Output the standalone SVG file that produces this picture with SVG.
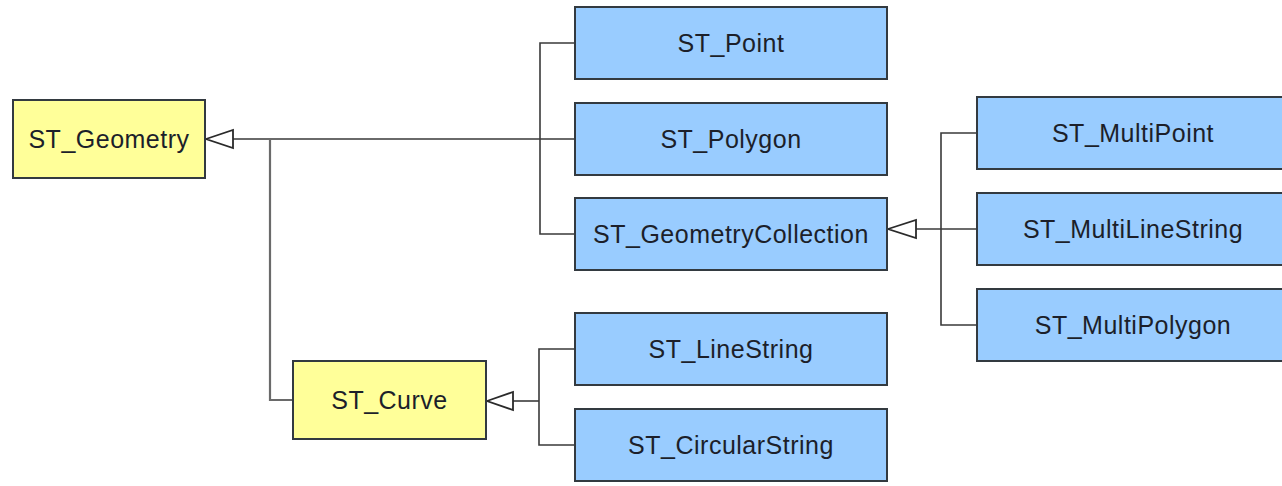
<svg xmlns="http://www.w3.org/2000/svg" width="1282" height="486" viewBox="0 0 1282 486">
  <style>
    .box { stroke: #333a40; stroke-width: 2; }
    .blue { fill: #99CCFF; }
    .yellow { fill: #FFFF99; }
    .lbl { font-family: "Liberation Sans", Arial, sans-serif; font-size: 25px; letter-spacing: 0.5px; fill: #1c1f2a; text-anchor: middle; dominant-baseline: central; }
    .conn { fill: none; stroke: #3a3a3a; stroke-width: 1.6; }
    .connG { fill: none; stroke: #6a6a6a; stroke-width: 2.2; }
    .tri { fill: #ffffff; stroke: #2a2a2a; stroke-width: 1.8; stroke-linejoin: miter; }
  </style>
  <rect width="1282" height="486" fill="#ffffff"/>
  <g id="connectors">
    <path class="connG" d="M233,139 H575"/>
    <path class="connG" d="M270,139 V400 H293"/>
    <path class="conn" d="M575,43 H540 V234 H575"/>
    <polygon class="tri" points="206,139 233,130 233,148"/>
    <path class="conn" d="M513,401 H539"/>
    <path class="conn" d="M575,349 H539 V445 H575"/>
    <polygon class="tri" points="487,401 513,392 513,410"/>
    <path class="conn" d="M916,229 H977"/>
    <path class="conn" d="M977,133 H941 V325 H977"/>
    <polygon class="tri" points="888,229 916,220 916,238"/>
  </g>
  <g id="ST_Geometry">
    <rect class="box yellow" x="13" y="100" width="192" height="78"/>
    <text class="lbl" x="109" y="139">ST_Geometry</text>
  </g>
  <g id="ST_Curve">
    <rect class="box yellow" x="293" y="361" width="193" height="78"/>
    <text class="lbl" x="389.5" y="400">ST_Curve</text>
  </g>
  <g id="ST_Point">
    <rect class="box blue" x="575" y="7" width="312" height="72"/>
    <text class="lbl" x="731" y="43">ST_Point</text>
  </g>
  <g id="ST_Polygon">
    <rect class="box blue" x="575" y="103" width="312" height="72"/>
    <text class="lbl" x="731" y="139">ST_Polygon</text>
  </g>
  <g id="ST_GeometryCollection">
    <rect class="box blue" x="575" y="198" width="312" height="72"/>
    <text class="lbl" x="731" y="234">ST_GeometryCollection</text>
  </g>
  <g id="ST_LineString">
    <rect class="box blue" x="575" y="313" width="312" height="72"/>
    <text class="lbl" x="731" y="349">ST_LineString</text>
  </g>
  <g id="ST_CircularString">
    <rect class="box blue" x="575" y="409" width="312" height="72"/>
    <text class="lbl" x="731" y="445">ST_CircularString</text>
  </g>
  <g id="ST_MultiPoint">
    <rect class="box blue" x="977" y="97" width="312" height="72"/>
    <text class="lbl" x="1133" y="133">ST_MultiPoint</text>
  </g>
  <g id="ST_MultiLineString">
    <rect class="box blue" x="977" y="193" width="312" height="72"/>
    <text class="lbl" x="1133" y="229">ST_MultiLineString</text>
  </g>
  <g id="ST_MultiPolygon">
    <rect class="box blue" x="977" y="289" width="312" height="72"/>
    <text class="lbl" x="1133" y="325">ST_MultiPolygon</text>
  </g>
</svg>
